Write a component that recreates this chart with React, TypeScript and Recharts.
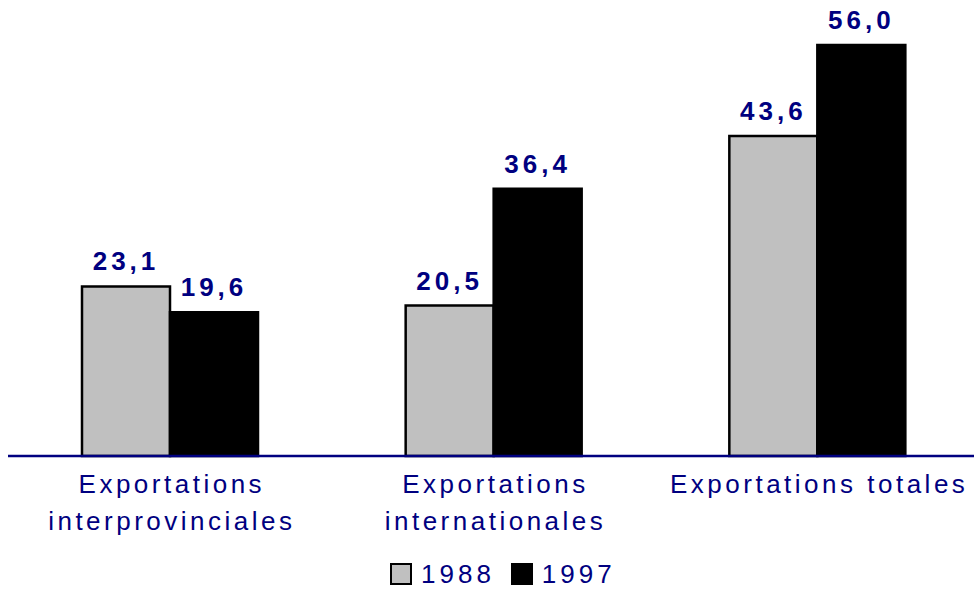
import { Bar, BarChart, LabelList, XAxis, YAxis } from "recharts";

const categories = [
  "Exportations|interprovinciales",
  "Exportations|internationales",
  "Exportations totales",
];
const values1988 = [23.1, 20.5, 43.6];
const values1997 = [19.6, 36.4, 56.0];

const data = categories.map((name, i) => ({
  name,
  y1988: values1988[i],
  y1997: values1997[i],
}));

const NAVY = "#000080";
const FONT = "'Liberation Sans', Arial, sans-serif";

const fmt = (v: unknown) => Number(v).toFixed(1).replace(".", ",");

function CategoryTick(props: any) {
  const { x, y, payload } = props;
  const lines = String(payload.value).split("|");
  return (
    <g>
      {lines.map((line, i) => (
        <text
          key={i}
          x={x + 2}
          y={y + 37 + i * 37}
          textAnchor="middle"
          fill={NAVY}
          fontFamily={FONT}
          fontSize={26}
          letterSpacing={3.5}
        >
          {line}
        </text>
      ))}
    </g>
  );
}

const labelStyle = {
  fill: NAVY,
  fontFamily: FONT,
  fontWeight: "bold" as const,
  fontSize: 26,
  letterSpacing: 4,
};

function LegendBox() {
  const item = (fill: string, label: string, gap: number) => (
    <span style={{ display: "inline-flex", alignItems: "center", marginRight: gap }}>
      <span
        style={{
          display: "inline-block",
          width: 18,
          height: 18,
          background: fill,
          border: "2.5px solid #000",
          marginRight: 9,
        }}
      />
      <span style={{ letterSpacing: 4 }}>{label}</span>
    </span>
  );
  return (
    <div
      style={{
        position: "absolute",
        left: 390,
        top: 561,
        display: "flex",
        alignItems: "center",
        color: NAVY,
        fontFamily: FONT,
        fontSize: 26,
        lineHeight: "26px",
      }}
    >
      {item("#c0c0c0", "1988", 16)}
      {item("#000", "1997", 0)}
    </div>
  );
}

export default function App() {
  return (
    <div
      style={{
        position: "fixed",
        left: 0,
        top: 0,
        width: 974,
        height: 590,
        overflow: "hidden",
        background: "#fff",
      }}
    >
      <BarChart
        width={979}
        height={590}
        data={data}
        margin={{ top: 45, right: 0, bottom: 104, left: 8 }}
        barCategoryGap={74}
        barGap={0}
      >
        <XAxis
          dataKey="name"
          height={30}
          axisLine={{ stroke: NAVY, strokeWidth: 2.5 }}
          tickLine={false}
          tickSize={0}
          tickMargin={0}
          interval={0}
          tick={<CategoryTick />}
        />
        <YAxis hide domain={[0, 56]} />
        <Bar
          dataKey="y1988"
          fill="#c0c0c0"
          stroke="#000"
          strokeWidth={2.5}
          isAnimationActive={false}
        >
          <LabelList dataKey="y1988" position="top" offset={16} formatter={fmt} style={labelStyle} />
        </Bar>
        <Bar
          dataKey="y1997"
          fill="#000"
          stroke="#000"
          strokeWidth={2.5}
          isAnimationActive={false}
        >
          <LabelList dataKey="y1997" position="top" offset={16} formatter={fmt} style={labelStyle} />
        </Bar>
      </BarChart>
      <LegendBox />
    </div>
  );
}
